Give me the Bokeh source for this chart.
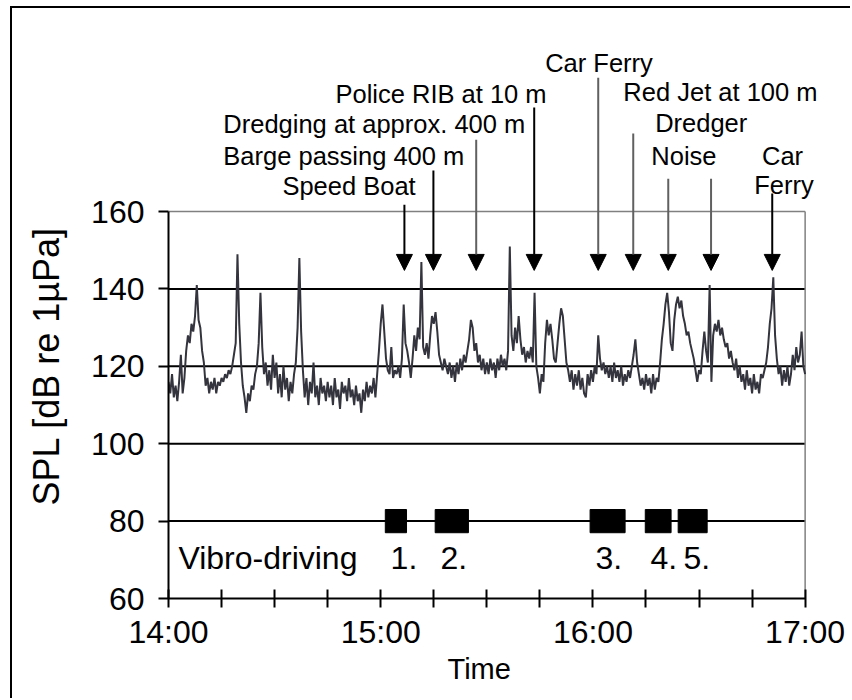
import numpy as np
from bokeh.plotting import figure
from bokeh.models import (Range1d, FixedTicker, Label, Arrow, NormalHead,
                          ColumnDataSource, Title)
from bokeh.embed import file_html
from bokeh.resources import INLINE

# ---------------- data ----------------
# SPL [dB re 1uPa], one reading every 0.5 min from 14:00 to 17:00
spl = [
    116, 113, 118, 112, 115, 111, 116, 123, 113, 117,
    124, 128, 126, 131, 129, 133, 141, 132, 130, 124,
    121, 115, 117, 113, 116, 114, 117, 113, 116, 115,
    117, 116, 118, 117, 119, 118, 120, 123, 126, 149,
    131, 121, 115, 112, 108, 113, 111, 115, 114, 118,
    120, 126, 139, 125, 118, 121, 115, 119, 114, 123,
    117, 121, 113, 118, 112, 120, 114, 117, 111, 116,
    113, 118, 121, 130, 148, 129, 119, 112, 117, 110,
    116, 113, 121, 112, 115, 110, 117, 113, 115, 111,
    116, 112, 115, 110, 117, 112, 114, 109, 116, 113,
    115, 111, 117, 112, 114, 110, 115, 111, 113, 108,
    114, 111, 116, 112, 115, 113, 117, 112, 118, 124,
    131, 136, 129, 122, 119, 118, 125, 117, 119, 118,
    120, 117, 122, 136, 126, 124, 121, 117, 122, 128,
    124, 130, 127, 147, 125, 123, 126, 122, 128, 133,
    131, 134, 129, 123, 121, 119, 122, 120, 118, 121,
    117, 120, 116, 121, 118, 122, 119, 123, 121, 124,
    127, 132, 130, 124, 126, 121, 123, 119, 122, 118,
    121, 118, 122, 119, 121, 117, 122, 119, 123, 120,
    122, 119, 124, 151, 128, 124, 130, 126, 133, 127,
    123, 125, 121, 124, 122, 125, 121, 139, 120, 117,
    113, 118, 116, 126, 132, 128, 131, 127, 122, 121,
    126, 131, 135, 133, 127, 121, 119, 116, 119, 114,
    118, 115, 119, 114, 117, 113, 112, 118, 115, 119,
    116, 120, 118, 128, 122, 119, 121, 118, 120, 117,
    120, 116, 121, 117, 119, 116, 120, 115, 118, 116,
    119, 117, 120, 123, 127, 121, 118, 115, 117, 114,
    118, 115, 117, 113, 118, 114, 117, 116, 121, 127,
    131, 136, 139, 134, 126, 124, 132, 136, 138, 135,
    137, 133, 131, 128, 129, 126, 124, 122, 119, 116,
    119, 118, 124, 129, 124, 121, 141, 116, 128, 131,
    129, 132, 128, 130, 127, 125, 126, 122, 124, 121,
    119, 122, 117, 120, 116, 118, 114, 119, 115, 117,
    113, 118, 114, 116, 113, 118, 117, 119, 121, 125,
    131, 135, 143, 128, 122, 118, 120, 115, 119, 116,
    120, 115, 118, 123, 119, 125, 121, 123, 129, 120,
    118,
]
sample_step_min = 0.5
time_min = [i * sample_step_min for i in range(len(spl))]

# vibro-driving periods (minutes after 14:00)
vibro_start = [61.3, 75.4, 119.2, 134.8, 144.1]
vibro_end = [67.3, 84.8, 129.1, 142.1, 152.3]
vibro_names = ["1.", "2.", "3.", "4.", "5."]

# marked events (minutes after 14:00)
event_times = [66.7, 74.9, 87.0, 103.4, 121.5, 131.4, 141.3, 153.4, 170.7]
event_texts = ["Speed Boat", "Barge passing 400 m", "Dredging at approx. 400 m",
               "Police RIB at 10 m", "Car Ferry", "Red Jet at 100 m",
               "Dredger", "Noise", "Car", "Ferry"]

y_ticks = [60, 80, 100, 120, 140, 160]
grid_levels = [80, 100, 120, 140]
y_min, y_max = 60, 160
x_min, x_max = 0, 180
x_major = [0, 60, 120, 180]
x_major_labels = ["14:00", "15:00", "16:00", "17:00"]
x_minor = [15, 30, 45, 75, 90, 105, 135, 150, 165]

# ---------------- figure ----------------
FONT = "Liberation Sans"
# frame extends above 160 dB and beyond 17:00 so event labels/arrows fit inside it
p = figure(width=850, height=698, output_backend="svg", toolbar_location=None,
           x_range=Range1d(x_min, 190), y_range=Range1d(y_min, 205),
           min_border_left=168, min_border_right=10, min_border_top=37,
           min_border_bottom=100)
# outer picture frame (left and top edges), drawn behind a transparent border area
p.styles = {"background-image": "linear-gradient(#000,#000), linear-gradient(#000,#000)",
            "background-size": "2px 100%, 100% 2px",
            "background-position": "10px 6px, 10px 6px",
            "background-repeat": "no-repeat"}
p.background_fill_color = "white"
p.border_fill_color = None
p.outline_line_color = None
p.xgrid.visible = False
p.ygrid.visible = False

# horizontal grid lines (limited to the 14:00-17:00 span)
p.segment(x0=[x_min] * len(grid_levels), x1=[x_max] * len(grid_levels),
          y0=grid_levels, y1=grid_levels, line_color="black", line_width=2)
# plot-area top and right border
p.segment(x0=[x_min, x_max], y0=[y_max, y_min], x1=[x_max, x_max], y1=[y_max, y_max],
          line_color="#808080", line_width=1.5)

# axes
p.yaxis.ticker = FixedTicker(ticks=y_ticks)
p.yaxis.bounds = (y_min, y_max)
p.yaxis.major_label_text_font = FONT
p.yaxis.major_label_text_font_size = "32px"
p.yaxis.major_label_text_color = "black"
p.yaxis.major_label_standoff = 14
p.yaxis.major_tick_in = 0
p.yaxis.major_tick_out = 10
p.yaxis.minor_tick_line_color = None
p.yaxis.axis_line_width = 2
p.yaxis.major_tick_line_width = 2

p.xaxis.ticker = FixedTicker(ticks=x_major, minor_ticks=x_minor)
p.xaxis.bounds = (x_min, x_max)
p.xaxis.major_label_overrides = dict(zip(x_major, x_major_labels))
p.xaxis.major_label_text_font = FONT
p.xaxis.major_label_text_font_size = "32px"
p.xaxis.major_label_text_color = "black"
p.xaxis.major_label_standoff = 6
p.xaxis.major_tick_in = 9
p.xaxis.major_tick_out = 9
p.xaxis.minor_tick_in = 9
p.xaxis.minor_tick_out = 9
p.xaxis.axis_line_width = 2
p.xaxis.major_tick_line_width = 2
p.xaxis.minor_tick_line_width = 2

# axis titles
p.add_layout(Title(text="SPL [dB re 1µPa]", align="left", offset=93, standoff=44,
                   vertical_align="bottom", text_font=FONT, text_font_size="36px",
                   text_font_style="normal", text_color="black"), "left")
p.add_layout(Title(text="Time", align="left", offset=279, standoff=0,
                   vertical_align="top", text_font=FONT, text_font_size="29px",
                   text_font_style="normal", text_color="black"), "below")

# series
src = ColumnDataSource(dict(t=time_min, spl=spl))
p.line("t", "spl", source=src, line_color="#34343e", line_width=2)

# vibro-driving blocks
vsrc = ColumnDataSource(dict(l=vibro_start, r=vibro_end))
p.quad(left="l", right="r", bottom=77, top=83, source=vsrc,
       fill_color="black", line_color="black")

lab_kw = dict(text_font=FONT, text_baseline="alphabetic", text_color="black")
p.add_layout(Label(x=2.8, y=70.5, text="Vibro-driving", text_font_size="32px", **lab_kw))
for nm, s in zip(vibro_names, vibro_start):
    p.add_layout(Label(x=s + 1.5, y=70.5, text=nm, text_font_size="32px", **lab_kw))

# event arrows
arrow_top = [161.8, 170.6, 178.6, 186.9, 194.6, 180.2, 168.5, 168.5, 164.7]
arrow_col = ["black", "black", "#606060", "black", "#606060", "#606060",
             "#606060", "#606060", "black"]
for t, top, col in zip(event_times, arrow_top, arrow_col):
    p.add_layout(Arrow(x_start=t, y_start=top, x_end=t, y_end=144.8,
                       line_color=col, line_width=2,
                       end=NormalHead(size=16, fill_color="black", line_color="black")))

label_pos = [(32.2, 166.7), (15.5, 174.5), (15.5, 182.6), (47.2, 190.4),
             (106.5, 198.4), (128.6, 190.8), (137.6, 182.9), (136.5, 174.5),
             (167.8, 174.5), (165.6, 166.8)]
for txt, (lx, ly) in zip(event_texts, label_pos):
    p.add_layout(Label(x=lx, y=ly, text=txt, text_font_size="25.5px", **lab_kw))

open("out.html", "w").write(file_html(p, INLINE))
